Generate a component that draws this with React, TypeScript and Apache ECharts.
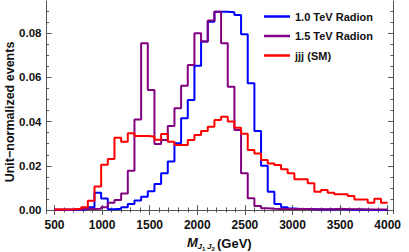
import React, { useEffect, useRef } from "react";
import * as echarts from "echarts";

// Histogram bins: 70 GeV wide, from 500 to 4000 GeV
const binEdges: number[] = Array.from({ length: 51 }, (_, i) => 500 + 70 * i);

const radion10: number[] = [
  0, 0, 0, 0.0001, 0.0003, 0.0012, 0.0078, 0.0052, 0.0003, 0.0006,
  0.0013, 0.0027, 0.0043, 0.006, 0.0085, 0.0118, 0.0166, 0.0219, 0.0302, 0.0415,
  0.0498, 0.0653, 0.0762, 0.0852, 0.0897, 0.0897, 0.0895, 0.0882, 0.0795, 0.0573,
  0.0357, 0.02, 0.0083, 0.0027, 0.0012, 0.0007, 0.0005, 0.0004, 0.0003, 0.0002,
  0.0002, 0.0002, 0.0005, 0.0002, 0.0001, 0.0001, 0.0001, 0, 0, 0,
];

const radion15: number[] = [
  0.0002, 0.0002, 0.0002, 0.0003, 0.0004, 0.0005, 0.0006, 0.0012, 0.0033, 0.0045,
  0.0075, 0.0178, 0.041, 0.0754, 0.0543, 0.0299, 0.0317, 0.038, 0.046, 0.0562,
  0.0656, 0.08, 0.0762, 0.0857, 0.0897, 0.0754, 0.0558, 0.0362, 0.0166, 0.0053,
  0.0018, 0.0008, 0.0006, 0.0005, 0.0005, 0.0004, 0.0004, 0.0004, 0.0003, 0.0003,
  0.0003, 0.0003, 0.0006, 0.0003, 0.0003, 0.0003, 0.0002, 0.0002, 0.0002, 0.0002,
];

const jjjSM: number[] = [
  0.0002, 0.0002, 0.0003, 0.0006, 0.0012, 0.0042, 0.0106, 0.0205, 0.0231, 0.0327,
  0.0309, 0.0347, 0.0335, 0.0335, 0.0333, 0.0318, 0.0344, 0.0309, 0.0294, 0.0294,
  0.0317, 0.0339, 0.0357, 0.0377, 0.0407, 0.0422, 0.04, 0.0372, 0.0345, 0.0271,
  0.0256, 0.0226, 0.0211, 0.0204, 0.0184, 0.0166, 0.0139, 0.0139, 0.0121, 0.0083,
  0.009, 0.0078, 0.0071, 0.0071, 0.0063, 0.0048, 0.0048, 0.0033, 0.0051, 0.0033,
];

const seriesNames = ["1.0 TeV Radion", "1.5 TeV Radion", "jjj (SM)"];
const seriesColors = ["#0000ff", "#800080", "#ff0000"];

const xMajorTicks = [500, 1000, 1500, 2000, 2500, 3000, 3500, 4000];
const xMinorTicks: number[] = Array.from({ length: 36 }, (_, i) => 500 + 100 * i).filter(
  (v) => v % 500 !== 0
);
const yMajorTicks = [0, 0.02, 0.04, 0.06, 0.08];
const yMinorTicks = [0.005, 0.01, 0.015, 0.025, 0.03, 0.035, 0.045, 0.05, 0.055, 0.065, 0.07, 0.075, 0.085, 0.09];

const X_MIN = 416;
const X_MAX = 4056;
const Y_MIN = -0.00158;
const Y_MAX = 0.09457;

const FONT = "Liberation Sans, Arial, sans-serif";
const FRAME = "#555555";

function stepData(values: number[]): [number, number][] {
  const pts: [number, number][] = values.map((v, i) => [binEdges[i], v]);
  pts.push([binEdges[values.length], values[values.length - 1]]);
  return pts;
}

export default function App() {
  const ref = useRef<HTMLDivElement>(null);

  useEffect(() => {
    if (!ref.current) return;
    const chart = echarts.init(ref.current, undefined, { renderer: "svg" });

    const xAxisBase = {
      type: "value" as const,
      min: X_MIN,
      max: X_MAX,
      splitLine: { show: false },
    };
    const yAxisBase = {
      type: "value" as const,
      min: Y_MIN,
      max: Y_MAX,
      splitLine: { show: false },
    };
    const lineOn = { show: true, lineStyle: { color: FRAME, width: 1 } };

    chart.setOption({
      animation: false,
      backgroundColor: "#ffffff",
      grid: { left: 46.5, right: 16, top: 1, bottom: 38.5, containLabel: false },
      legend: {
        orient: "vertical",
        left: 264,
        top: 10,
        padding: 0,
        itemWidth: 26,
        itemHeight: 2.5,
        itemGap: 6.5,
        icon: "rect",
        data: seriesNames,
        textStyle: { fontFamily: FONT, fontWeight: "bold", fontSize: 11, color: "#111", lineHeight: 13 },
      },
      xAxis: [
        {
          ...xAxisBase,
          position: "bottom",
          axisLine: lineOn,
          axisTick: { show: true, inside: true, length: 5, customValues: xMajorTicks, lineStyle: { color: FRAME } },
          axisLabel: {
            show: true,
            customValues: xMajorTicks,
            margin: 5,
            formatter: (v: number) => String(v),
            fontFamily: FONT,
            fontWeight: "bold",
            fontSize: 12,
            color: "#111",
          },
        },
        {
          ...xAxisBase,
          position: "bottom",
          axisLine: { show: false },
          axisTick: { show: true, inside: true, length: 2.5, customValues: xMinorTicks, lineStyle: { color: FRAME } },
          axisLabel: { show: false },
        },
        {
          ...xAxisBase,
          position: "top",
          axisLine: lineOn,
          axisTick: { show: true, inside: true, length: 5, customValues: xMajorTicks, lineStyle: { color: FRAME } },
          axisLabel: { show: false },
        },
        {
          ...xAxisBase,
          position: "top",
          axisLine: { show: false },
          axisTick: { show: true, inside: true, length: 2.5, customValues: xMinorTicks, lineStyle: { color: FRAME } },
          axisLabel: { show: false },
        },
      ],
      yAxis: [
        {
          ...yAxisBase,
          position: "left",
          axisLine: lineOn,
          axisTick: { show: true, inside: true, length: 5, customValues: yMajorTicks, lineStyle: { color: FRAME } },
          axisLabel: {
            show: true,
            customValues: yMajorTicks,
            margin: 5,
            formatter: (v: number) => v.toFixed(2),
            fontFamily: FONT,
            fontWeight: "bold",
            fontSize: 11.5,
            color: "#111",
          },
        },
        {
          ...yAxisBase,
          position: "left",
          axisLine: { show: false },
          axisTick: { show: true, inside: true, length: 2.5, customValues: yMinorTicks, lineStyle: { color: FRAME } },
          axisLabel: { show: false },
        },
        {
          ...yAxisBase,
          position: "right",
          axisLine: lineOn,
          axisTick: { show: true, inside: true, length: 5, customValues: yMajorTicks, lineStyle: { color: FRAME } },
          axisLabel: { show: false },
        },
        {
          ...yAxisBase,
          position: "right",
          axisLine: { show: false },
          axisTick: { show: true, inside: true, length: 2.5, customValues: yMinorTicks, lineStyle: { color: FRAME } },
          axisLabel: { show: false },
        },
      ],
      series: [radion10, radion15, jjjSM].map((vals, i) => ({
        name: seriesNames[i],
        type: "line",
        step: "end",
        xAxisIndex: 0,
        yAxisIndex: 0,
        showSymbol: false,
        symbol: "none",
        data: stepData(vals),
        color: seriesColors[i],
        lineStyle: { color: seriesColors[i], width: 2 },
        z: 2 + i,
      })),
      graphic: [
        {
          type: "text",
          x: 10,
          y: 112,
          rotation: Math.PI / 2,
          style: {
            text: "Unit\u2212normalized events",
            fontFamily: FONT,
            fontWeight: "bold",
            fontSize: 12.5,
            fill: "#111",
            align: "center",
            verticalAlign: "middle",
          },
        },
        {
          type: "text",
          x: 187,
          y: 242,
          style: { text: "M", fontFamily: FONT, fontWeight: "bold", fontStyle: "italic", fontSize: 13, fill: "#111", align: "left", verticalAlign: "middle" },
        },
        {
          type: "text",
          x: 197.5,
          y: 246.5,
          style: { text: "J", fontFamily: FONT, fontWeight: "bold", fontStyle: "italic", fontSize: 8, fill: "#111", align: "left", verticalAlign: "middle" },
        },
        {
          type: "text",
          x: 202,
          y: 248.5,
          style: { text: "1", fontFamily: FONT, fontWeight: "bold", fontSize: 6, fill: "#111", align: "left", verticalAlign: "middle" },
        },
        {
          type: "text",
          x: 207,
          y: 246.5,
          style: { text: "J", fontFamily: FONT, fontWeight: "bold", fontStyle: "italic", fontSize: 8, fill: "#111", align: "left", verticalAlign: "middle" },
        },
        {
          type: "text",
          x: 211.5,
          y: 248.5,
          style: { text: "2", fontFamily: FONT, fontWeight: "bold", fontSize: 6, fill: "#111", align: "left", verticalAlign: "middle" },
        },
        {
          type: "text",
          x: 217,
          y: 243,
          style: { text: "(GeV)", fontFamily: FONT, fontWeight: "bold", fontSize: 13, fill: "#111", align: "left", verticalAlign: "middle" },
        },
      ],
    });

    return () => chart.dispose();
  }, []);

  return <div ref={ref} style={{ width: 409, height: 252, position: "absolute", left: 0, top: 0 }} />;
}
